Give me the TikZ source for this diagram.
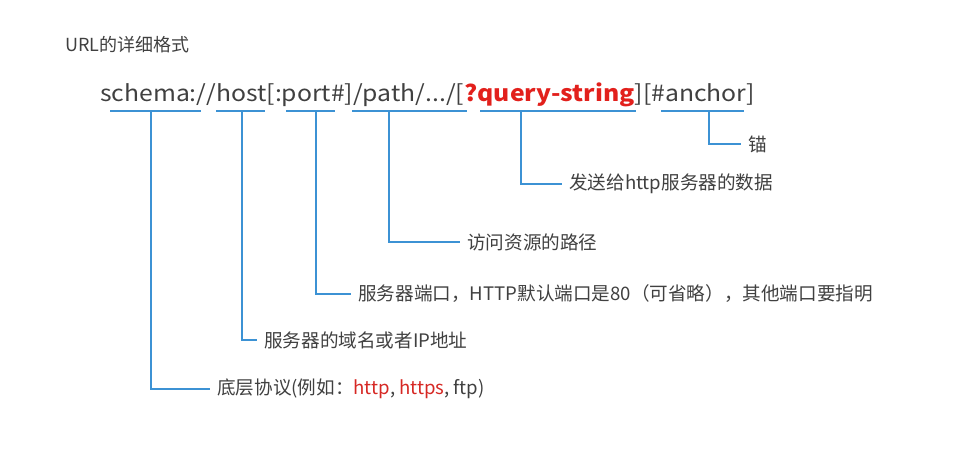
\documentclass[tikz,border=0pt]{standalone}
\usepackage{fontspec}
\usepackage{xcolor}
\usepackage{tikz}
\usetikzlibrary{positioning,calc}
\setmainfont{Noto Sans CJK SC}
\newfontfamily\urlfont[FakeStretch=1.1]{Noto Sans CJK SC}
\definecolor{ink}{RGB}{64,64,64}
\definecolor{linkblue}{RGB}{60,146,212}
\definecolor{hotred}{RGB}{226,32,28}
\definecolor{softred}{RGB}{214,40,36}

\begin{document}
\begin{tikzpicture}[x=1pt, y=-1pt, text=ink,
  title/.style={anchor=west, inner sep=0pt, font=\fontsize{18}{22}\selectfont},
  url/.style={anchor=base west, inner sep=0pt, font=\urlfont\fontsize{22.5}{28}\selectfont},
  note/.style={anchor=west, inner xsep=7pt, inner ysep=0pt, font=\fontsize{18.6}{22}\selectfont},
  rule/.style={draw=linkblue, line width=2pt},
  tap/.style={draw=linkblue, line width=2pt}]
  \useasboundingbox (0,0) rectangle (972,451);
  \node[title] (head) at (65,45) {URL的详细格式};
  \node[url] (addr) at (100,101) {schema://host[:port\#]/path/.../[\textcolor{hotred}{\bfseries ?query-string}][\#anchor]};
  % underlines under the url parts
  \coordinate (schemaL) at (110,111); \coordinate (schemaR) at (201,111); \coordinate (schemaT) at (151,111);
  \coordinate (hostL) at (216,111);   \coordinate (hostR) at (265,111);   \coordinate (hostT) at (242,111);
  \coordinate (portL) at (286,111);   \coordinate (portR) at (335,111);   \coordinate (portT) at (316,111);
  \coordinate (pathL) at (352,111);   \coordinate (pathR) at (467,111);   \coordinate (pathT) at (389,111);
  \coordinate (queryL) at (480,111);  \coordinate (queryR) at (636,111);  \coordinate (queryT) at (521,111);
  \coordinate (anchorL) at (661,111); \coordinate (anchorR) at (744,111); \coordinate (anchorT) at (709,111);
  \node[note] (anchornote) at (741,144) {锚};
  \node[note] (querynote) at (562,184) {发送给http服务器的数据};
  \node[note] (pathnote) at (460,242) {访问资源的路径};
  \node[note] (portnote) at (351,294) {服务器端口，HTTP默认端口是80（可省略），其他端口要指明};
  \node[note] (domain) at (257,340) {服务器的域名或者IP地址};
  \node[note] (protocol) at (210,389) {底层协议(例如：\textcolor{softred}{http}, \textcolor{softred}{https}, ftp)};
  \draw[rule] (schemaL) -- (schemaR);
  \draw[rule] (hostL) -- (hostR);
  \draw[rule] (portL) -- (portR);
  \draw[rule] (pathL) -- (pathR);
  \draw[rule] (queryL) -- (queryR);
  \draw[rule] (anchorL) -- (anchorR);
  \draw[tap] (schemaT) |- (protocol.west);
  \draw[tap] (hostT) |- (domain.west);
  \draw[tap] (portT) |- (portnote.west);
  \draw[tap] (pathT) |- (pathnote.west);
  \draw[tap] (queryT) |- (querynote.west);
  \draw[tap] (anchorT) |- (anchornote.west);
\end{tikzpicture}
\end{document}
